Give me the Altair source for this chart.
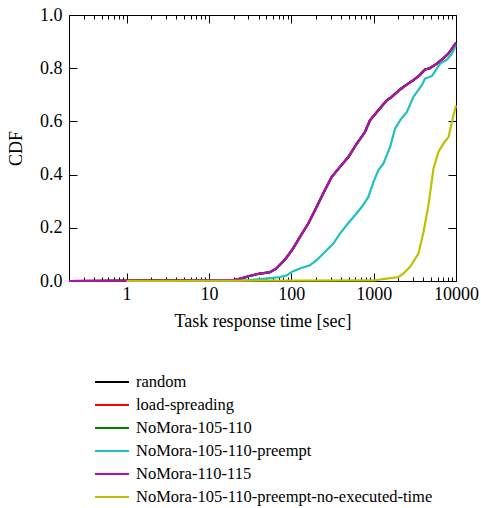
import altair as alt
import pandas as pd

# Series shown in the legend, in drawing order
names = [
    "random",
    "load-spreading",
    "NoMora-105-110",
    "NoMora-105-110-preempt",
    "NoMora-110-115",
    "NoMora-105-110-preempt-no-executed-time",
]
colors = ["#000000", "#ff0000", "#008000", "#20c0c0", "#b010b0", "#c0c000"]
widths = [2.2, 2.2, 2.2, 1.7, 2.3, 1.7]

# Response-time CDFs (seconds, fraction of tasks)
base_t = [0.2, 19.6, 25, 31, 41.5, 55, 66, 83.6, 105, 127, 161, 203, 244, 309,
          390, 493, 622, 785, 903, 1140, 1445, 1660, 2094, 2500, 3040, 3600,
          4216, 4800, 5860, 7050, 8110, 10000]
base_cdf = [0.0, 0.003, 0.010, 0.019, 0.028, 0.033, 0.047, 0.080, 0.122, 0.165,
            0.216, 0.278, 0.329, 0.391, 0.429, 0.466, 0.516, 0.560, 0.604,
            0.642, 0.679, 0.692, 0.720, 0.737, 0.755, 0.773, 0.795, 0.800,
            0.817, 0.838, 0.855, 0.895]

preempt_t = [1, 20, 31, 50, 73, 88, 101, 127, 168, 203, 256, 324, 390, 493, 594,
             716, 863, 993, 1140, 1313, 1585, 1820, 2094, 2527, 3040, 3845,
             4216, 5080, 6430, 7760, 8910, 10000]
preempt_cdf = [0.0, 0.0, 0.003, 0.009, 0.015, 0.021, 0.034, 0.047, 0.059, 0.078,
               0.109, 0.141, 0.178, 0.218, 0.247, 0.278, 0.316, 0.372, 0.416,
               0.441, 0.504, 0.573, 0.604, 0.635, 0.692, 0.736, 0.761, 0.770,
               0.817, 0.832, 0.855, 0.886]

noexec_t = [1, 1000, 1445, 2000, 2296, 2770, 3500, 4030, 4630, 5330, 6120,
            7050, 8110, 8910, 10000]
noexec_cdf = [0.0, 0.002, 0.009, 0.015, 0.028, 0.053, 0.103, 0.184, 0.285,
              0.423, 0.485, 0.517, 0.541, 0.598, 0.660]

series_t = [base_t, base_t, base_t, preempt_t, base_t, noexec_t]
series_cdf = [base_cdf, base_cdf, base_cdf, preempt_cdf, base_cdf, noexec_cdf]

x_major = [1, 10, 100, 1000, 10000]
x_minor = [m * 10 ** e for e in range(-1, 4) for m in range(2, 10)
           if 0.2 < m * 10 ** e < 10000 and m * 10 ** e not in x_major]
y_major = [0.0, 0.2, 0.4, 0.6, 0.8, 1.0]

rows = []
for name, ts, cs in zip(names, series_t, series_cdf):
    for t, c in zip(ts, cs):
        rows.append({"series": name, "t": t, "cdf": c})
df = pd.DataFrame(rows)

corners = pd.DataFrame({"t": [0.2, 10000], "cdf": [0.0, 1.0]})

FONT = "Liberation Serif"
xscale = alt.Scale(type="log", domain=[0.2, 10000], nice=False)
yscale = alt.Scale(domain=[0, 1], nice=False, zero=False)


def tick_axis(orient, values, size):
    # ticks drawn inward by pulling the axis inside the frame
    return alt.Axis(orient=orient, values=values, tickSize=size, offset=-size,
                    labels=False, domain=False, grid=False, title=None,
                    tickColor="black", tickWidth=1)


lines = alt.Chart(df).mark_line().encode(
    x=alt.X("t:Q", scale=xscale,
            axis=alt.Axis(values=x_major, format="d", ticks=False, domain=False,
                          grid=False, labelPadding=4, labelFontSize=18,
                          labelFont=FONT, labelColor="black", labelFlush=False,
                          labelOverlap=False,
                          title="Task response time [sec]", titleFont=FONT,
                          titleFontSize=18, titleFontWeight="normal",
                          titleColor="black", titlePadding=9)),
    y=alt.Y("cdf:Q", scale=yscale,
            axis=alt.Axis(values=y_major, format=".1f", ticks=False, domain=False,
                          grid=False, labelPadding=7, labelFontSize=18,
                          labelFont=FONT, labelColor="black", labelFlush=False,
                          labelOverlap=False, title="CDF",
                          titleFont=FONT, titleFontSize=18,
                          titleFontWeight="normal", titleColor="black",
                          titlePadding=14)),
    color=alt.Color("series:N", sort=names,
                    scale=alt.Scale(domain=names, range=colors),
                    legend=alt.Legend(title=None, orient="none", legendX=33,
                                      legendY=357, padding=0,
                                      symbolType="M-2,0H2", symbolSize=289,
                                      symbolStrokeWidth=2, labelOffset=14,
                                      labelFont=FONT, labelFontSize=16.5,
                                      labelColor="black", rowPadding=4,
                                      labelLimit=400)),
    strokeWidth=alt.StrokeWidth("series:N", scale=alt.Scale(domain=names, range=widths),
                                legend=None),
    detail="series:N",
)


def tick_layer(xaxis, yaxis):
    return alt.Chart(corners).mark_point(opacity=0).encode(
        x=alt.X("t:Q", scale=xscale, axis=xaxis),
        y=alt.Y("cdf:Q", scale=yscale, axis=yaxis),
    )


layers = [
    lines,
    tick_layer(tick_axis("bottom", x_major, 8), tick_axis("left", y_major, 8)),
    tick_layer(tick_axis("bottom", x_minor, 4), tick_axis("right", y_major, 8)),
    tick_layer(tick_axis("top", x_major, 8), None),
    tick_layer(tick_axis("top", x_minor, 4), None),
]

chart = alt.layer(*layers).resolve_axis(
    x="independent", y="independent"
).properties(
    width=387,
    height=266,
    autosize=alt.AutoSizeParams(type="none"),
    padding={"left": 69, "top": 15, "right": 25, "bottom": 227},
    background="white",
).configure_view(stroke="black", strokeWidth=1)

chart.save("out.html", embed_options={"renderer": "svg", "actions": False})
